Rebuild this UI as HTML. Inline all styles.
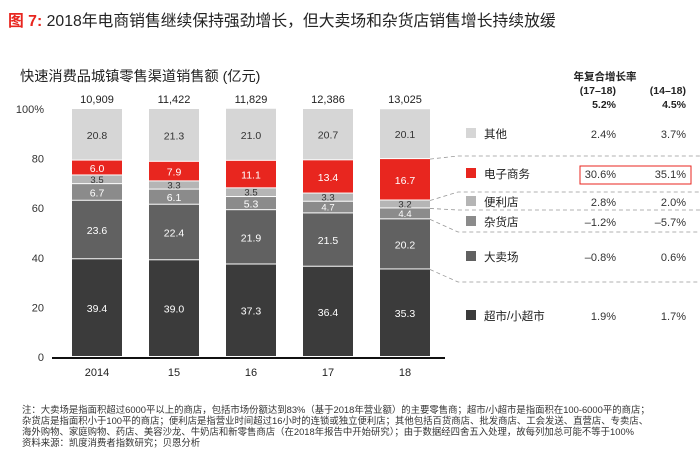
<!DOCTYPE html>
<html><head><meta charset="utf-8"><style>
body{margin:0;background:#fff;width:700px;height:451px;overflow:hidden;font-family:"Liberation Sans","Noto Sans CJK SC",sans-serif;}
svg text{font-family:"Liberation Sans","Noto Sans CJK SC",sans-serif;}
</style></head><body>
<svg width="700" height="451">
<text x="8" y="26" font-size="15.8" fill="#222"><tspan fill="#e8261f" font-weight="bold">图 7:</tspan> 2018年电商销售继续保持强劲增长，但大卖场和杂货店销售增长持续放缓</text>
<text x="20" y="81" font-size="14.2" fill="#222">快速消费品城镇零售渠道销售额 (亿元)</text>
<text x="605" y="80" font-size="10.5" font-weight="bold" text-anchor="middle" fill="#222">年复合增长率</text>
<text x="616" y="94" font-size="10.5" font-weight="bold" text-anchor="end" fill="#222">(17–18)</text>
<text x="686" y="94" font-size="10.5" font-weight="bold" text-anchor="end" fill="#222">(14–18)</text>
<text x="616" y="108" font-size="10.5" font-weight="bold" text-anchor="end" fill="#222">5.2%</text>
<text x="686" y="108" font-size="10.5" font-weight="bold" text-anchor="end" fill="#222">4.5%</text>
<g id="plot"></g>
<g id="legend"></g>
<g font-size="9.4" fill="#333">
<text x="22" y="413">注：大卖场是指面积超过6000平以上的商店，包括市场份额达到83%（基于2018年营业额）的主要零售商；超市/小超市是指面积在100-6000平的商店；</text>
<text x="22" y="424">杂货店是指面积小于100平的商店；便利店是指营业时间超过16小时的连锁或独立便利店；其他包括百货商店、批发商店、工会发送、直营店、专卖店、</text>
<text x="22" y="435">海外购物、家庭购物、药店、美容沙龙、牛奶店和新零售商店（在2018年报告中开始研究）；由于数据经四舍五入处理，故每列加总可能不等于100%</text>
<text x="22" y="446">资料来源：凯度消费者指数研究；贝恩分析</text>
</g>
</svg>
<script>
const categories=["2014","15","16","17","18"];
const totals=["10,909","11,422","11,829","12,386","13,025"];
const seriesNames=["超市/小超市","大卖场","杂货店","便利店","电子商务","其他"];
const supermarket=[39.4,39.0,37.3,36.4,35.3];
const hypermarket=[23.6,22.4,21.9,21.5,20.2];
const grocery=[6.7,6.1,5.3,4.7,4.4];
const convenience=[3.5,3.3,3.5,3.3,3.2];
const ecommerce=[6.0,7.9,11.1,13.4,16.7];
const others=[20.8,21.3,21.0,20.7,20.1];
const cagr1718=["1.9%","–0.8%","–1.2%","2.8%","30.6%","2.4%"];
const cagr1418=["1.7%","0.6%","–5.7%","2.0%","35.1%","3.7%"];
const yTicks=[0,20,40,60,80,100];
const series=[supermarket,hypermarket,grocery,convenience,ecommerce,others];
const colors=["#3b3b3b","#616161","#8b8b8b","#b5b5b5","#e8261f","#d6d6d6"];
const textCol=["#fff","#fff","#fff","#333","#fff","#333"];
const NS="http://www.w3.org/2000/svg";
const y0=357,yTop=109;
const y=v=>y0-(v/100)*(y0-yTop);
const x=i=>72+i*77, bw=50;
const plot=document.getElementById('plot'),leg=document.getElementById('legend');
function mk(tag,a,p){const e=document.createElementNS(NS,tag);for(const k in a)e.setAttribute(k,a[k]);p.appendChild(e);return e;}
yTicks.forEach(t=>{const e=mk('text',{x:44,y:y(t)+4,'font-size':11,'text-anchor':'end',fill:'#333'},plot);e.textContent=t===100?'100%':t;

});
categories.forEach((c,i)=>{let cum=0;
series.forEach((s,j)=>{const v=s[i];const r=mk('rect',{x:x(i),y:y(cum+v),width:bw,height:Math.max(0,y(cum)-y(cum+v)-1),fill:colors[j]},plot);


const small=v<5;const t=mk('text',{x:x(i)+bw/2,y:(y(cum)+y(cum+v))/2+(small?3:4),'font-size':small?9.5:10.5,'text-anchor':'middle',fill:textCol[j]},plot);t.textContent=v.toFixed(1);


cum+=v;});
const tt=mk('text',{x:x(i)+bw/2,y:y(100)-6,'font-size':11,'text-anchor':'middle',fill:'#222'},plot);tt.textContent=totals[i];


const xl=mk('text',{x:x(i)+bw/2,y:376,'font-size':11,'text-anchor':'middle',fill:'#222'},plot);xl.textContent=c;

});
const ax=mk('line',{x1:52,x2:445,y1:y0+1,y2:y0+1,stroke:'#111','stroke-width':2},plot);


const last=4;let c=0;const bnd=[];series.forEach(s=>{bnd.push(y(c));c+=s[last];});
const dl=[[bnd[5],156],[bnd[4],192],[bnd[3],210],[bnd[2],232],[bnd[1],282]];
dl.forEach(d=>{const p=mk('path',{d:`M430 ${d[0]} L458 ${d[1]} L700 ${d[1]}`,fill:'none',stroke:'#999','stroke-dasharray':'4,3','stroke-width':0.8},leg);

});
const rowY=[316,257,222,202,174,134];
seriesNames.forEach((n,j)=>{const ry=rowY[j];
const sq=mk('rect',{x:466,y:ry-6,width:10,height:10,fill:colors[j]},leg);


const t=mk('text',{x:484,y:ry+4,'font-size':11.5,fill:'#222'},leg);t.textContent=n;


const a=mk('text',{x:616,y:ry+4,'font-size':11,'text-anchor':'end',fill:'#333'},leg);a.textContent=cagr1718[j];


const b=mk('text',{x:686,y:ry+4,'font-size':11,'text-anchor':'end',fill:'#333'},leg);b.textContent=cagr1418[j];

});
const box=mk('rect',{x:580,y:166,width:111,height:18,fill:'none',stroke:'#e8261f','stroke-width':1},leg);


</script>
</body></html>
